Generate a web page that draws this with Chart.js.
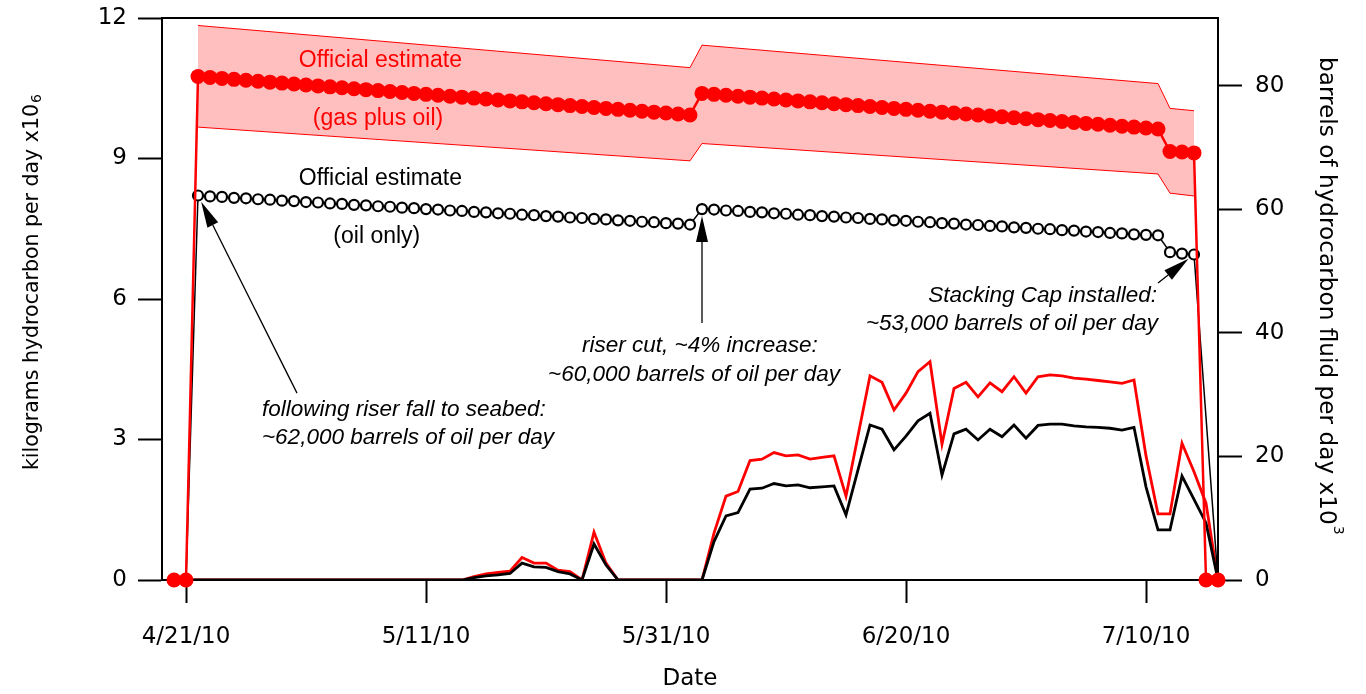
<!DOCTYPE html>
<html>
<head>
<meta charset="utf-8">
<title>Deepwater Horizon flow estimates</title>
<script src="https://cdn.jsdelivr.net/npm/chart.js@4.4.1/dist/chart.umd.min.js"></script>
<style>
  html, body { margin: 0; padding: 0; background: #fff; overflow: hidden; }
  #wrap { width: 1366px; height: 694px; }
  canvas { display: block; }
</style>
</head>
<body>
<div id="wrap"><canvas id="chart" width="1366" height="694"></canvas></div>
<script>
// Days are counted from 4/21/10 (day 0); the series run from 4/20/10 (day -1) to 7/16/10 (day 86).
const dayIndex = Array.from({ length: 88 }, (_, i) => i - 1);

// Date ticks on the x axis
const tickDays = [0, 20, 40, 60, 80];
const tickLabels = ['4/21/10', '5/11/10', '5/31/10', '6/20/10', '7/10/10'];

// Left axis (kg x10^6 per day) and right axis (barrels x10^3 per day) ticks
const kgTicks = [0, 3, 6, 9, 12];
const barrelTicks = [0, 20, 40, 60, 80];

// Official estimate, gas plus oil (kg x10^6 per day), one value per day from day -1
const gasOilEstimate = [
  0, 0,
  10.75, 10.73, 10.71, 10.69, 10.67, 10.65, 10.63, 10.61, 10.59, 10.57,
  10.55, 10.53, 10.51, 10.49, 10.47, 10.45, 10.43, 10.41, 10.39, 10.37,
  10.35, 10.33, 10.31, 10.29, 10.27, 10.25, 10.23, 10.21, 10.19, 10.17,
  10.15, 10.13, 10.11, 10.09, 10.07, 10.05, 10.03, 10.01, 9.99, 9.97,
  9.95, 9.93,
  10.39, 10.37, 10.35, 10.33, 10.31, 10.29, 10.27, 10.25, 10.23, 10.21,
  10.19, 10.17, 10.15, 10.13, 10.11, 10.09, 10.07, 10.05, 10.03, 10.01,
  9.99, 9.97, 9.95, 9.93, 9.91, 9.89, 9.87, 9.85, 9.83, 9.81,
  9.79, 9.77, 9.75, 9.73, 9.71, 9.69, 9.67, 9.65, 9.63,
  9.15, 9.14, 9.12,
  0, 0
];

// Official estimate, oil only (kg x10^6 per day)
const oilEstimate = [
  0, 0,
  8.21, 8.19, 8.18, 8.16, 8.15, 8.13, 8.12, 8.10, 8.09, 8.07,
  8.06, 8.04, 8.03, 8.01, 8.00, 7.98, 7.97, 7.95, 7.94, 7.92,
  7.91, 7.89, 7.88, 7.86, 7.85, 7.83, 7.82, 7.80, 7.79, 7.77,
  7.76, 7.74, 7.73, 7.71, 7.70, 7.68, 7.67, 7.65, 7.64, 7.62,
  7.61, 7.59,
  7.92, 7.91, 7.89, 7.88, 7.86, 7.85, 7.83, 7.82, 7.80, 7.79,
  7.77, 7.76, 7.74, 7.73, 7.71, 7.70, 7.68, 7.67, 7.65, 7.64,
  7.62, 7.61, 7.59, 7.58, 7.56, 7.55, 7.53, 7.52, 7.50, 7.49,
  7.47, 7.46, 7.44, 7.43, 7.41, 7.40, 7.38, 7.37, 7.36,
  7.00, 6.97, 6.95,
  null, 0
];

// Uncertainty band around the gas plus oil estimate
const bandDays  = [1, 42, 43, 81, 82, 84];
const bandUpper = [11.84, 10.94, 11.42, 10.60, 10.07, 10.02];
const bandLower = [9.67, 8.95, 9.32, 8.67, 8.26, 8.20];

// Hydrocarbon recovered at the well, gas plus oil and oil only (kg x10^6 per day)
const gasOilRecovered = [
  0, 0, 0, 0, 0, 0, 0, 0, 0, 0, 0, 0, 0, 0, 0, 0, 0, 0, 0, 0, 0, 0, 0, 0, 0,
  0.07, 0.13, 0.16, 0.19, 0.48, 0.36, 0.36, 0.21, 0.18, 0,
  1.02, 0.36, 0, 0, 0, 0, 0, 0, 0, 0,
  1.00, 1.79, 1.89, 2.55, 2.58, 2.72, 2.65, 2.67, 2.58, 2.62,
  2.65, 1.79, 3.08, 4.36, 4.22, 3.63, 3.99, 4.45, 4.66, 2.90,
  4.09, 4.22, 3.91, 4.21, 4.02, 4.34, 3.99, 4.34, 4.38, 4.36,
  4.31, 4.29, 4.26, 4.23, 4.20, 4.27, 2.65, 1.41, 1.41, 2.92,
  2.31, 1.64, 0
];
const oilRecovered = [
  0, 0, 0, 0, 0, 0, 0, 0, 0, 0, 0, 0, 0, 0, 0, 0, 0, 0, 0, 0, 0, 0, 0, 0, 0,
  0.05, 0.09, 0.11, 0.14, 0.36, 0.28, 0.27, 0.18, 0.13, 0,
  0.77, 0.32, 0, 0, 0, 0, 0, 0, 0, 0,
  0.82, 1.37, 1.44, 1.94, 1.96, 2.06, 2.01, 2.03, 1.97, 1.99,
  2.01, 1.39, 2.35, 3.31, 3.22, 2.78, 3.07, 3.40, 3.56, 2.24,
  3.12, 3.22, 2.99, 3.22, 3.06, 3.31, 3.03, 3.30, 3.33, 3.33,
  3.29, 3.27, 3.26, 3.24, 3.20, 3.26, 1.99, 1.07, 1.07, 2.22,
  1.72, 1.22, 0
];

const RED = '#ff0000';
const BLACK = '#000000';
const AXIS_FONT = 'DejaVu Sans';
const NOTE_FONT = 'Liberation Sans';

const pts = (days, values) => values.map((v, i) => ({ x: days[i], y: v }));

// Text notes, placed in data units (day, kg x10^6 per day)
const notes = [
  { text: 'Official estimate',              day: 16.2, value: 10.96, color: RED,   align: 'center', italic: false },
  { text: '(gas plus oil)',                 day: 16.0, value: 9.72,  color: RED,   align: 'center', italic: false },
  { text: 'Official estimate',              day: 16.2, value: 8.43,  color: BLACK, align: 'center', italic: false },
  { text: '(oil only)',                     day: 15.9, value: 7.20,  color: BLACK, align: 'center', italic: false },
  { text: 'following riser fall to seabed:', day: 6.33, value: 3.50, color: BLACK, align: 'left',   italic: true },
  { text: '~62,000 barrels of oil per day',  day: 6.33, value: 2.90, color: BLACK, align: 'left',   italic: true },
  { text: 'riser cut, ~4% increase:',        day: 33.0, value: 4.87, color: BLACK, align: 'left',   italic: true },
  { text: '~60,000 barrels of oil per day',  day: 30.17, value: 4.25, color: BLACK, align: 'left',  italic: true },
  { text: 'Stacking Cap installed:',         day: 80.92, value: 5.94, color: BLACK, align: 'right', italic: true },
  { text: '~53,000 barrels of oil per day',  day: 81.0, value: 5.34, color: BLACK, align: 'right',  italic: true }
];

// Arrows from a note to an oil-only estimate point (tail in data units, head at that day's point)
const arrows = [
  { fromDay: 9.25, fromValue: 3.99, toDay: 1 },
  { fromDay: 43.0, fromValue: 5.49, toDay: 43 },
  { fromDay: 81.0, fromValue: 6.34, toDay: 84 }
];

function drawArrow(ctx, x1, y1, x2, y2) {
  const ang = Math.atan2(y2 - y1, x2 - x1);
  const len = 26, half = 6;
  const bx = x2 - len * Math.cos(ang), by = y2 - len * Math.sin(ang);
  ctx.beginPath();
  ctx.moveTo(x1, y1);
  ctx.lineTo(bx, by);
  ctx.lineWidth = 1.3;
  ctx.strokeStyle = BLACK;
  ctx.stroke();
  ctx.beginPath();
  ctx.moveTo(x2, y2);
  ctx.lineTo(bx + half * Math.sin(ang), by - half * Math.cos(ang));
  ctx.lineTo(bx - half * Math.sin(ang), by + half * Math.cos(ang));
  ctx.closePath();
  ctx.fillStyle = BLACK;
  ctx.fill();
}

const decorations = {
  id: 'decorations',
  afterDraw(chart) {
    const { ctx, chartArea: a, scales } = chart;
    const x = scales.x, y = scales.y;
    ctx.save();

    // top edge of the frame
    ctx.strokeStyle = BLACK;
    ctx.lineWidth = 2;
    ctx.beginPath();
    ctx.moveTo(a.left - 1, a.top);
    ctx.lineTo(a.right + 1, a.top);
    ctx.stroke();

    // notes
    ctx.textBaseline = 'alphabetic';
    notes.forEach(n => {
      ctx.font = (n.italic ? 'italic 22.5px ' : '23px ') + '"' + NOTE_FONT + '"';
      ctx.fillStyle = n.color;
      ctx.textAlign = n.align;
      ctx.fillText(n.text, x.getPixelForValue(n.day), y.getPixelForValue(n.value));
    });

    // arrows
    arrows.forEach(ar => {
      const tx = x.getPixelForValue(ar.toDay);
      const ty = y.getPixelForValue(oilEstimate[dayIndex.indexOf(ar.toDay)]);
      const fx = x.getPixelForValue(ar.fromDay);
      const fy = y.getPixelForValue(ar.fromValue);
      const d = Math.hypot(fx - tx, fy - ty);
      const gap = 7;
      drawArrow(ctx, fx, fy, tx + (fx - tx) * gap / d, ty + (fy - ty) * gap / d);
    });

    // axis titles
    ctx.fillStyle = BLACK;
    ctx.textAlign = 'left';
    ctx.textBaseline = 'alphabetic';

    // left title, reading upwards
    ctx.save();
    ctx.translate(37.5, 470);
    ctx.rotate(-Math.PI / 2);
    ctx.font = '20.5px "' + AXIS_FONT + '"';
    const leftText = 'kilograms hydrocarbon per day x10';
    ctx.fillText(leftText, 0, 0);
    const lw = ctx.measureText(leftText).width;
    ctx.font = '14px "' + AXIS_FONT + '"';
    ctx.fillText('6', lw + 1, 3);
    ctx.restore();

    // right title, reading downwards
    ctx.save();
    ctx.translate(1320, 57);
    ctx.rotate(Math.PI / 2);
    ctx.font = '23.2px "' + AXIS_FONT + '"';
    const rightText = 'barrels of hydrocarbon fluid per day x10';
    ctx.fillText(rightText, 0, 0);
    const rw = ctx.measureText(rightText).width;
    ctx.font = '14px "' + AXIS_FONT + '"';
    ctx.fillText('3', rw + 1, -14);
    ctx.restore();

    // x title
    ctx.font = '23px "' + AXIS_FONT + '"';
    ctx.textAlign = 'center';
    ctx.textBaseline = 'middle';
    ctx.fillText('Date', 690, 679);

    ctx.restore();
  }
};

const tickFont = { family: AXIS_FONT, size: 23 };
const axisGrid = { drawOnChartArea: false, tickLength: 24, tickWidth: 2, tickColor: BLACK };
const axisBorder = { display: true, color: BLACK, width: 2 };

// fixed axis boxes so the plot frame sits at 162..1218 x 18..580
const fitVertical = w => s => { s.width = w; s.paddingTop = 0; s.paddingBottom = 0; };
const fitHorizontal = h => s => { s.height = h; s.paddingLeft = 0; s.paddingRight = 0; };

new Chart(document.getElementById('chart'), {
  type: 'line',
  data: {
    datasets: [
      {
        label: 'Official estimate (gas plus oil), upper',
        data: pts(bandDays, bandUpper),
        borderColor: RED, borderWidth: 1, backgroundColor: '#ffbfbf',
        pointRadius: 0, fill: '+1', order: 10
      },
      {
        label: 'Official estimate (gas plus oil), lower',
        data: pts(bandDays, bandLower),
        borderColor: RED, borderWidth: 1,
        pointRadius: 0, fill: false, order: 9
      },
      {
        label: 'Gas plus oil recovered',
        data: pts(dayIndex, gasOilRecovered),
        borderColor: RED, borderWidth: 2.8,
        pointRadius: 0, fill: false, order: 5
      },
      {
        label: 'Oil recovered',
        data: pts(dayIndex, oilRecovered),
        borderColor: BLACK, borderWidth: 2.8,
        pointRadius: 0, fill: false, order: 4
      },
      {
        label: 'Official estimate (oil only)',
        data: pts(dayIndex, oilEstimate),
        borderColor: BLACK, borderWidth: 1.5,
        pointRadius: 5, pointBorderWidth: 2.2,
        pointBackgroundColor: '#ffffff', pointBorderColor: BLACK,
        spanGaps: true, fill: false, clip: false, order: 2
      },
      {
        label: 'Official estimate (gas plus oil)',
        data: pts(dayIndex, gasOilEstimate),
        borderColor: RED, borderWidth: 2.5,
        pointRadius: 7.5, pointBorderWidth: 0,
        pointBackgroundColor: RED, pointBorderColor: RED,
        fill: false, clip: false, order: 1
      }
    ]
  },
  options: {
    responsive: false,
    animation: false,
    devicePixelRatio: 1,
    layout: { autoPadding: false, padding: { top: 18, left: 0, right: 0, bottom: 0 } },
    elements: { line: { tension: 0 } },
    plugins: { legend: { display: false }, tooltip: { enabled: false } },
    scales: {
      x: {
        type: 'linear', position: 'bottom', min: -2, max: 86,
        afterBuildTicks: s => { s.ticks = tickDays.map(v => ({ value: v })); },
        ticks: {
          font: tickFont, color: BLACK, padding: 20, maxRotation: 0, autoSkip: false,
          callback: v => tickLabels[tickDays.indexOf(v)]
        },
        grid: { ...axisGrid, tickLength: 23 },
        border: axisBorder,
        afterFit: fitHorizontal(114)
      },
      y: {
        type: 'linear', position: 'left', min: 0, max: 12,
        afterBuildTicks: s => { s.ticks = kgTicks.map(v => ({ value: v })); },
        ticks: { font: tickFont, color: BLACK, padding: 11 },
        grid: axisGrid,
        border: axisBorder,
        afterFit: fitVertical(162)
      },
      y2: {
        type: 'linear', position: 'right', min: 0, max: 91,
        afterBuildTicks: s => { s.ticks = barrelTicks.map(v => ({ value: v })); },
        ticks: { font: tickFont, color: BLACK, padding: 13 },
        grid: axisGrid,
        border: axisBorder,
        afterFit: fitVertical(148)
      }
    }
  },
  plugins: [decorations]
});
</script>
</body>
</html>
